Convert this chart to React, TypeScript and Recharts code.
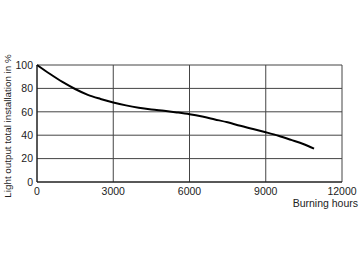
import { LineChart, Line, XAxis, YAxis, CartesianGrid, Label } from "recharts"

// burning hours vs light output (%)
const hours = [0, 500, 1000, 1500, 2000, 2500, 3000, 3500, 4000, 4500, 5000, 5500, 6000, 6500, 7000, 7500, 8000, 8500, 9000, 9500, 10000, 10500, 10900]
const output = [100, 92.5, 85.5, 79.5, 74.5, 71, 68, 65.5, 63.5, 62, 60.8, 59.5, 58, 56, 53.5, 51, 48, 45.3, 42.5, 39.5, 36, 32.3, 28.5]
const xTicks = [0, 3000, 6000, 9000, 12000]
const yTicks = [0, 20, 40, 60, 80, 100]

const data = hours.map((h, i) => ({ h, v: output[i] }))

const font = "'Liberation Sans', Arial, sans-serif"
const ink = "#222"

export default function App() {
  return (
    <div>
      <style>{"body{margin:0}"}</style>
      <LineChart width={360} height={262} data={data} margin={{ top: 65, right: 18, bottom: 50, left: 0 }}>
        <CartesianGrid stroke="#444" strokeWidth={1} />
        <XAxis
          dataKey="h"
          type="number"
          domain={[0, 12000]}
          ticks={xTicks}
          height={30}
          tickLine={false}
          tickSize={0}
          tickMargin={6}
          axisLine={{ stroke: "#111" }}
          tick={{ fill: ink, fontSize: 10.5, fontFamily: font }}
        >
          <Label
            content={() => (
              <text x={358} y={207} textAnchor="end" fill={ink} fontSize={10.5} fontFamily={font}>
                Burning hours
              </text>
            )}
          />
        </XAxis>
        <YAxis
          type="number"
          domain={[0, 100]}
          ticks={yTicks}
          width={37}
          tickLine={false}
          tickSize={0}
          tickMargin={4}
          axisLine={{ stroke: "#111" }}
          tick={{ fill: ink, fontSize: 10.5, fontFamily: font }}
        >
          <Label
            content={() => (
              <text
                transform="translate(11,126) rotate(-90)"
                textAnchor="middle"
                fill={ink}
                fontSize={9.8}
                fontFamily={font}
              >
                Light output total installation in %
              </text>
            )}
          />
        </YAxis>
        <Line
          dataKey="v"
          type="monotone"
          stroke="#000"
          strokeWidth={2}
          dot={false}
          isAnimationActive={false}
        />
      </LineChart>
    </div>
  )
}
